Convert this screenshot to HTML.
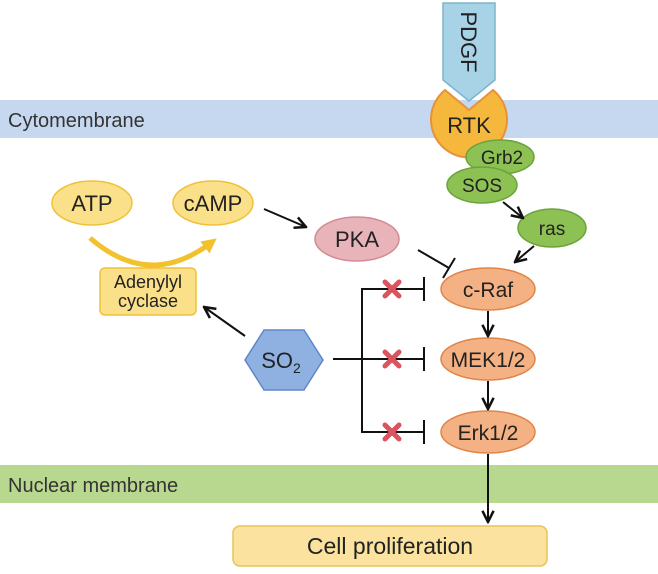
<!DOCTYPE html>
<html><head><meta charset="utf-8"><style>
html,body{margin:0;padding:0;background:#fff;}
svg{display:block;font-family:"Liberation Sans",Arial,sans-serif;}
</style></head><body>
<svg width="658" height="574" viewBox="0 0 658 574">
<defs>
<marker id="ah" viewBox="0 0 10 10" refX="9" refY="5" markerWidth="7" markerHeight="7" orient="auto-start-reverse">
<path d="M1,1 L9,5 L1,9" fill="none" stroke="#111" stroke-width="1.8"/></marker>
<marker id="ahy" viewBox="0 0 10 10" refX="6" refY="5" markerWidth="3" markerHeight="3" orient="auto">
<path d="M0,0 L10,5 L0,10 Z" fill="#f2c12e"/></marker>
</defs>
<rect x="0" y="100" width="658" height="38" fill="#c6d8f0"/>
<text x="8" y="127" font-size="20" fill="#333">Cytomembrane</text>
<rect x="0" y="465" width="658" height="38" fill="#b8d88f"/>
<text x="8" y="492" font-size="20" fill="#333">Nuclear membrane</text>

<g>
<path d="M445,90 A38,38 0 1 0 493,90 L469,110 Z" fill="#f6b83c" stroke="#e8913a" stroke-width="2"/>
<text x="469" y="133" font-size="22" text-anchor="middle" fill="#222">RTK</text>
</g>
<g>
<path d="M443,3 L495,3 L495,80 L469,101 L443,80 Z" fill="#a8d3e6" stroke="#7db5cc" stroke-width="1.5"/>
<text transform="translate(461,42) rotate(90)" font-size="22" text-anchor="middle" fill="#222">PDGF</text>
</g>
<g>
<ellipse cx="500" cy="157" rx="34" ry="17" fill="#8dc153" stroke="#6ba33c" stroke-width="1.5"/>
<text x="502" y="164" font-size="19" text-anchor="middle" fill="#222">Grb2</text></g>
<g>
<ellipse cx="482" cy="185" rx="35" ry="18" fill="#8dc153" stroke="#6ba33c" stroke-width="1.5"/>
<text x="482" y="192" font-size="19" text-anchor="middle" fill="#222">SOS</text></g>
<g>
<ellipse cx="552" cy="228" rx="34" ry="19" fill="#8dc153" stroke="#6ba33c" stroke-width="1.5"/>
<text x="552" y="235" font-size="19" text-anchor="middle" fill="#222">ras</text></g>
<line x1="503" y1="202" x2="523" y2="218" stroke="#111" stroke-width="2" marker-end="url(#ah)"/>
<line x1="534" y1="246" x2="515" y2="262" stroke="#111" stroke-width="2" marker-end="url(#ah)"/>

<g>
<ellipse cx="488" cy="289" rx="47" ry="21" fill="#f4b183" stroke="#e0854a" stroke-width="1.5"/>
<text x="488" y="297" font-size="21" text-anchor="middle" fill="#222">c-Raf</text></g>
<g>
<ellipse cx="488" cy="359" rx="47" ry="21" fill="#f4b183" stroke="#e0854a" stroke-width="1.5"/>
<text x="488" y="367" font-size="21" text-anchor="middle" fill="#222">MEK1/2</text></g>
<g>
<ellipse cx="488" cy="432" rx="47" ry="21" fill="#f4b183" stroke="#e0854a" stroke-width="1.5"/>
<text x="488" y="440" font-size="21" text-anchor="middle" fill="#222">Erk1/2</text></g>
<line x1="488" y1="311" x2="488" y2="336" stroke="#111" stroke-width="2" marker-end="url(#ah)"/>
<line x1="488" y1="381" x2="488" y2="409" stroke="#111" stroke-width="2" marker-end="url(#ah)"/>
<line x1="488" y1="454" x2="488" y2="522" stroke="#111" stroke-width="2" marker-end="url(#ah)"/>

<g>
<rect x="233" y="526" width="314" height="40" rx="7" fill="#fbe39f" stroke="#e8c35a" stroke-width="1.5"/>
<text x="390" y="554" font-size="23" text-anchor="middle" fill="#222">Cell proliferation</text></g>

<g>
<ellipse cx="92" cy="203" rx="40" ry="22" fill="#fbe08a" stroke="#f0c13a" stroke-width="1.5"/>
<text x="92" y="211" font-size="22" text-anchor="middle" fill="#222">ATP</text></g>
<g>
<ellipse cx="213" cy="203" rx="40" ry="22" fill="#fbe08a" stroke="#f0c13a" stroke-width="1.5"/>
<text x="213" y="211" font-size="22" text-anchor="middle" fill="#222">cAMP</text></g>
<path d="M90,238 Q150,290 212,242" fill="none" stroke="#f2c12e" stroke-width="5" marker-end="url(#ahy)"/>
<g>
<rect x="100" y="268" width="96" height="47" rx="5" fill="#fbe08a" stroke="#f0c13a" stroke-width="1.5"/>
<text x="148" y="288" font-size="18" text-anchor="middle" fill="#222">Adenylyl</text>
<text x="148" y="307" font-size="18" text-anchor="middle" fill="#222">cyclase</text></g>
<line x1="264" y1="209" x2="306" y2="227" stroke="#111" stroke-width="2" marker-end="url(#ah)"/>
<g>
<ellipse cx="357" cy="239" rx="42" ry="22" fill="#e8b4b9" stroke="#d48b93" stroke-width="1.5"/>
<text x="357" y="247" font-size="22" text-anchor="middle" fill="#222">PKA</text></g>
<g stroke="#111" stroke-width="2">
<line x1="418" y1="250" x2="449" y2="268"/><line x1="443" y1="278" x2="455" y2="258"/></g>

<g>
<polygon points="245,360 264,330 304,330 323,360 304,390 264,390" fill="#8fb1e2" stroke="#5f89c9" stroke-width="1.5"/>
<text x="281" y="368" font-size="22" text-anchor="middle" fill="#222">SO<tspan font-size="14" dy="5">2</tspan></text></g>
<line x1="245" y1="336" x2="204" y2="307" stroke="#111" stroke-width="2" marker-end="url(#ah)"/>
<g stroke="#111" stroke-width="2" fill="none">
<line x1="333" y1="359" x2="424" y2="359"/>
<polyline points="424,289 362,289 362,432 424,432"/>
<line x1="424" y1="277" x2="424" y2="301"/>
<line x1="424" y1="347" x2="424" y2="371"/>
<line x1="424" y1="420" x2="424" y2="444"/>
</g>
<g stroke="#d9545e" stroke-width="5" stroke-linecap="round">
<line x1="385" y1="282" x2="399" y2="296"/><line x1="399" y1="282" x2="385" y2="296"/>
<line x1="385" y1="352" x2="399" y2="366"/><line x1="399" y1="352" x2="385" y2="366"/>
<line x1="385" y1="425" x2="399" y2="439"/><line x1="399" y1="425" x2="385" y2="439"/>
</g>
</svg>
</body></html>
